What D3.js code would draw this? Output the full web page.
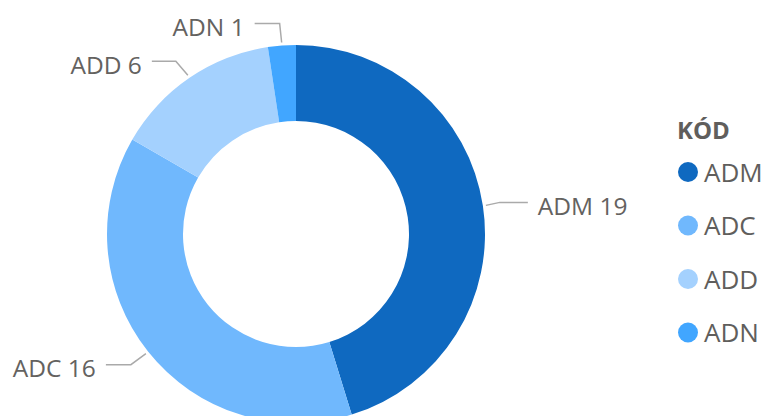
<!DOCTYPE html>
<html>
<head>
<meta charset="utf-8">
<script src="https://cdn.jsdelivr.net/npm/d3@7"></script>
<style>
  body { margin: 0; background: #fff; }
  text { font-family: "Open Sans", "Noto Sans", sans-serif; }
</style>
</head>
<body>
<div id="chart"></div>
<script>
var categories = ["ADM", "ADC", "ADD", "ADN"];
var counts = [19, 16, 6, 1];
var colors = ["#0F69C0", "#70B8FD", "#A4D1FE", "#41A6FF"];
var legendTitle = "KÓD";

var width = 767, height = 416;
var cx = 296, cy = 234,
    outerRadius = 189, innerRadius = 113;

var data = categories.map(function(c, i) { return {name: c, value: counts[i], color: colors[i]}; });

var svg = d3.select("#chart").append("svg")
    .attr("width", width)
    .attr("height", height);

var g = svg.append("g")
    .attr("transform", "translate(" + cx + "," + cy + ")");

var pie = d3.pie()
    .sort(null)
    .value(function(d) { return d.value; });

var arc = d3.arc()
    .innerRadius(innerRadius)
    .outerRadius(outerRadius);

var arcs = pie(data);

g.selectAll("path.slice")
    .data(arcs)
    .enter().append("path")
    .attr("class", "slice")
    .attr("fill", function(d) { return d.data.color; })
    .attr("d", arc);

// leader lines + labels, placed by hand per slice (bend offsets)
var labelOpts = {
    ADM: {side: 1, bend: [14, -3], run: 28},
    ADC: {side: -1, bend: [-15, 11], run: 25},
    ADD: {side: -1, bend: [-12, -14], run: 24},
    ADN: {side: -1, bend: [-2, -19], run: 25}
};

arcs.forEach(function(d) {
    var o = labelOpts[d.data.name];
    var mid = (d.startAngle + d.endAngle) / 2;
    var r0 = outerRadius + 3;
    var p0 = [Math.sin(mid) * r0, -Math.cos(mid) * r0];
    var p1 = [p0[0] + o.bend[0], p0[1] + o.bend[1]];
    var p2 = [p1[0] + o.side * o.run, p1[1]];

    g.append("polyline")
        .attr("points", [p0, p1, p2].map(function(p) { return p.join(","); }).join(" "))
        .attr("fill", "none")
        .attr("stroke", "#AAAAAA")
        .attr("stroke-width", 1.5);

    g.append("text")
        .attr("x", p2[0] + o.side * 10)
        .attr("y", p2[1])
        .attr("dy", "0.5em")
        .attr("text-anchor", o.side > 0 ? "start" : "end")
        .attr("fill", "#646260")
        .style("font-size", "24.5px")
        .text(d.data.name + " " + d.data.value);
});

var legend = svg.append("g")
    .attr("transform", "translate(677,0)");

legend.append("text")
    .attr("x", 0)
    .attr("y", 139)
    .attr("fill", "#605E5C")
    .style("font-size", "24px")
    .style("font-weight", "bold")
    .text(legendTitle);

var item = legend.selectAll("g.item")
    .data(data)
    .enter().append("g")
    .attr("class", "item")
    .attr("transform", function(d, i) { return "translate(0," + (172 + i * 53.5) + ")"; });

item.append("circle")
    .attr("cx", 11)
    .attr("cy", 0)
    .attr("r", 10)
    .attr("fill", function(d) { return d.color; });

item.append("text")
    .attr("x", 27)
    .attr("y", 0)
    .attr("dy", "0.38em")
    .attr("fill", "#605E5C")
    .style("font-size", "26px")
    .text(function(d) { return d.name; });
</script>
</body>
</html>
